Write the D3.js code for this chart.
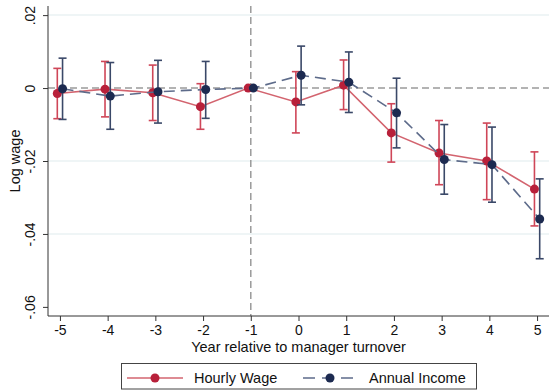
<!DOCTYPE html>
<html>
<head>
<meta charset="utf-8">
<script src="https://cdn.jsdelivr.net/npm/d3@7"></script>
<style>
  body { margin: 0; background: #fff; }
  svg { display: block; font-family: "Liberation Sans", Arial, sans-serif; }
</style>
</head>
<body>
<svg id="chart" width="550" height="391"></svg>
<script>
// years relative to turnover
var years = [-5, -4, -3, -2, -1, 0, 1, 2, 3, 4, 5];

// hourly wage: estimate, lower / upper CI (-1 is the reference year)
var wageEst = [-0.0015, -0.0003, -0.0013, -0.0051, 0, -0.0038, 0.0008, -0.0123, -0.0178, -0.0200, -0.0277];
var wageLo  = [-0.0084, -0.0079, -0.0089, -0.0113, null, -0.0123, -0.0059, -0.0203, -0.0265, -0.0306, -0.0378];
var wageHi  = [0.0054, 0.0073, 0.0063, 0.0012, null, 0.0045, 0.0077, -0.0043, -0.0089, -0.0096, -0.0175];

// annual income
var incEst = [-0.0002, -0.0022, -0.0010, -0.0004, 0, 0.0035, 0.0016, -0.0068, -0.0196, -0.0210, -0.0359];
var incLo  = [-0.0086, -0.0113, -0.0096, -0.0083, null, -0.0046, -0.0067, -0.0164, -0.0291, -0.0313, -0.0468];
var incHi  = [0.0082, 0.0070, 0.0076, 0.0073, null, 0.0115, 0.0099, 0.0027, -0.0100, -0.0107, -0.0249];

var yTicks = [0.02, 0, -0.02, -0.04, -0.06];
var gridTicks = [0.02, -0.02, -0.04];

var svg = d3.select('#chart');
var pLeft = 48, pRight = 549, pTop = 6, pBottom = 316;

var x = d3.scaleLinear().domain([-5.25, 5.25]).range([pLeft, pRight]);
var y = d3.scaleLinear().domain([-0.0625, 0.0225]).range([pBottom, pTop]);

// grid
svg.selectAll('.grid').data(gridTicks).enter().append('line')
    .attr('x1', pLeft).attr('x2', pRight)
    .attr('y1', function(d) { return y(d); }).attr('y2', function(d) { return y(d); })
    .attr('stroke', '#eaf2f3').attr('stroke-width', 1.5);

// reference lines
svg.append('line')
    .attr('x1', pLeft).attr('x2', pRight).attr('y1', y(0)).attr('y2', y(0))
    .attr('stroke', '#9a9a9a').attr('stroke-width', 1.5).attr('stroke-dasharray', '7,4');
svg.append('line')
    .attr('x1', x(-1)).attr('x2', x(-1)).attr('y1', pTop).attr('y2', pBottom)
    .attr('stroke', '#9a9a9a').attr('stroke-width', 1.5).attr('stroke-dasharray', '7,4');

// axes
var yAxis = svg.append('g').attr('transform', 'translate(' + pLeft + ',0)')
    .call(d3.axisLeft(y).tickValues(yTicks).tickSize(5).tickFormat(function(d) {
        if (d === 0) return '0';
        return (d < 0 ? '-' : '') + d3.format('.2f')(Math.abs(d)).replace('0.', '.');
    }));
yAxis.select('.domain').attr('d', 'M0,' + pTop + 'V' + pBottom).attr('stroke', '#333');
yAxis.selectAll('.tick line').attr('stroke', '#333');
yAxis.selectAll('.tick text')
    .attr('transform', 'rotate(-90)')
    .attr('x', 0).attr('y', -13).attr('dy', 0)
    .attr('text-anchor', 'middle')
    .style('font-size', '14px').attr('fill', '#111');

var xAxis = svg.append('g').attr('transform', 'translate(0,' + pBottom + ')')
    .call(d3.axisBottom(x).tickValues(years).tickSize(5).tickFormat(function(d) { return String(d); }));
xAxis.select('.domain').attr('d', 'M' + pLeft + ',0H' + pRight).attr('stroke', '#333');
xAxis.selectAll('.tick line').attr('stroke', '#333');
xAxis.selectAll('.tick text').attr('y', 9).style('font-size', '14px').attr('fill', '#111');

svg.append('text').attr('x', (pLeft + pRight) / 2).attr('y', 352)
    .attr('text-anchor', 'middle').style('font-size', '14.5px').attr('fill', '#111')
    .text('Year relative to manager turnover');
svg.append('text').attr('transform', 'translate(20,' + ((pTop + pBottom) / 2) + ') rotate(-90)')
    .attr('text-anchor', 'middle').style('font-size', '14.5px').attr('fill', '#111')
    .text('Log wage');

function drawSeries(est, lo, hi, shift, lineCol, dotCol, ciCol, dash) {
    var pts = years.map(function(yr, i) {
        return { x: yr + shift, v: est[i], lo: lo[i], hi: hi[i] };
    });
    var line = d3.line().x(function(d) { return x(d.x); }).y(function(d) { return y(d.v); });
    var g = svg.append('g');
    g.append('path').datum(pts).attr('d', line)
        .attr('fill', 'none').attr('stroke', lineCol).attr('stroke-width', 1.6)
        .attr('stroke-dasharray', dash);
    var ci = g.selectAll('.ci').data(pts.filter(function(d) { return d.lo !== null; })).enter().append('g');
    ci.append('line')
        .attr('x1', function(d) { return x(d.x); }).attr('x2', function(d) { return x(d.x); })
        .attr('y1', function(d) { return y(d.lo); }).attr('y2', function(d) { return y(d.hi); })
        .attr('stroke', ciCol).attr('stroke-width', 1.6);
    ['lo', 'hi'].forEach(function(k) {
        ci.append('line')
            .attr('x1', function(d) { return x(d.x) - 4; }).attr('x2', function(d) { return x(d.x) + 4; })
            .attr('y1', function(d) { return y(d[k]); }).attr('y2', function(d) { return y(d[k]); })
            .attr('stroke', ciCol).attr('stroke-width', 1.6);
    });
    g.selectAll('.dot').data(pts).enter().append('circle')
        .attr('cx', function(d) { return x(d.x); }).attr('cy', function(d) { return y(d.v); })
        .attr('r', 4.5).attr('fill', dotCol);
}

drawSeries(wageEst, wageLo, wageHi, -0.055, '#d3646f', '#b8203a', '#cf4658', null);
drawSeries(incEst, incLo, incHi, 0.055, '#5d6b8a', '#1c2a50', '#3a4868', '11,6');

// legend
var lg = svg.append('g');
lg.append('rect').attr('x', 121.5).attr('y', 363.5).attr('width', 355).attr('height', 25.5)
    .attr('fill', '#fff').attr('stroke', '#444').attr('stroke-width', 1);
lg.append('line').attr('x1', 127).attr('x2', 183).attr('y1', 378).attr('y2', 378)
    .attr('stroke', '#d3646f').attr('stroke-width', 1.6);
lg.append('circle').attr('cx', 155).attr('cy', 378).attr('r', 4.5).attr('fill', '#b8203a');
lg.append('text').attr('x', 194).attr('y', 383).style('font-size', '14.5px').attr('fill', '#111').text('Hourly Wage');
lg.append('line').attr('x1', 303).attr('x2', 356).attr('y1', 378).attr('y2', 378)
    .attr('stroke', '#5d6b8a').attr('stroke-width', 1.6).attr('stroke-dasharray', '12,7');
lg.append('circle').attr('cx', 330).attr('cy', 378).attr('r', 4.5).attr('fill', '#1c2a50');
lg.append('text').attr('x', 369).attr('y', 383).style('font-size', '14.5px').attr('fill', '#111').text('Annual Income');
</script>
</body>
</html>
